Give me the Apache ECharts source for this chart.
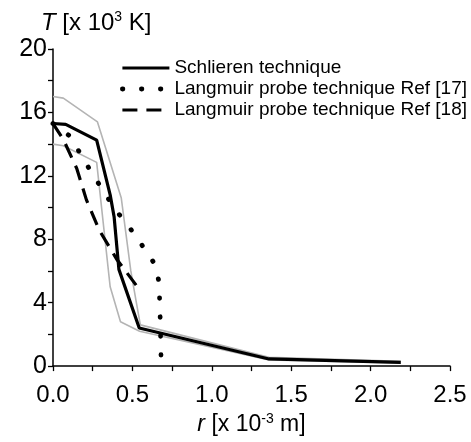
<!DOCTYPE html>
<html>
<head>
<meta charset="utf-8">
<script src="https://cdn.jsdelivr.net/npm/echarts@6/dist/echarts.min.js"></script>
<style>html,body{margin:0;padding:0;background:#fff;}#c{width:471px;height:442px;}</style>
</head>
<body>
<div id="c"></div>
<script>
// Schlieren technique (solid black)
const schR = [0, 0.08, 0.275, 0.36, 0.385, 0.415, 0.543, 1.36, 2.19];
const schT = [15.3, 15.25, 14.25, 10.8, 9.4, 6.1, 2.4, 0.45, 0.24];
// Upper uncertainty bound (grey)
const upR = [0, 0.065, 0.28, 0.43, 0.49, 0.525, 0.55, 1.36, 2.19];
const upT = [17.0, 16.9, 15.4, 10.6, 6.0, 4.0, 2.6, 0.55, 0.3];
// Lower uncertainty bound (grey)
const loR = [0, 0.065, 0.275, 0.36, 0.425, 0.545, 1.36, 2.19];
const loT = [14.0, 13.9, 12.85, 5.0, 2.8, 2.2, 0.38, 0.2];
// Langmuir probe technique Ref [17] (dotted)
const l17R = [0, 0.107, 0.24, 0.39, 0.48, 0.56, 0.64, 0.668, 0.675, 0.68];
const l17T = [15.3, 14.5, 12.25, 9.9, 8.77, 7.63, 6.45, 5.3, 3.0, 0.7];
// Langmuir probe technique Ref [18] (dashed)
const l18R = [0, 0.065, 0.15, 0.21, 0.29, 0.40, 0.55];
const l18T = [15.3, 14.3, 12.45, 10.5, 8.6, 6.76, 4.75];

const seriesNames = ['Schlieren technique', 'Langmuir probe technique Ref [17]', 'Langmuir probe technique Ref [18]'];
const xTicks = [0, 0.5, 1.0, 1.5, 2.0, 2.5];
const yTicks = [0, 4, 8, 12, 16, 20];

const pairs = (xs, ys) => xs.map((x, i) => [x, ys[i]]);
const FONT = 'Liberation Sans, Arial, sans-serif';

const chart = echarts.init(document.getElementById('c'));
chart.setOption({
  animation: false,
  backgroundColor: '#fff',
  title: {
    left: 36, top: 5,
    text: '{i|T} [x 10{sup|3} K]',
    textStyle: {
      fontFamily: FONT, fontSize: 24, fontWeight: 'normal', color: '#000', lineHeight: 26,
      rich: {
        i: { fontStyle: 'italic', fontSize: 24, fontFamily: FONT, color: '#000', lineHeight: 26 },
        sup: { fontSize: 14, fontFamily: FONT, color: '#000', verticalAlign: 'top', lineHeight: 26 }
      }
    }
  },
  grid: { left: 53, right: 21, top: 49, bottom: 71.5, containLabel: false },
  legend: {
    orient: 'vertical', left: 115, top: 52.5,
    itemWidth: 47, itemHeight: 14, itemGap: 0,
    data: seriesNames,
    itemStyle: { color: 'rgba(0,0,0,0)', borderColor: 'rgba(0,0,0,0)', borderWidth: 0, opacity: 0 },
    lineStyle: { width: 'inherit', type: 'inherit', cap: 'inherit' },
    textStyle: { fontFamily: FONT, fontSize: 19, color: '#000', lineHeight: 21 }
  },
  xAxis: {
    type: 'value', min: xTicks[0], max: xTicks[xTicks.length - 1], interval: 0.5,
    name: '{i|r} [x 10{sup|-3} m]', nameLocation: 'middle', nameGap: 44,
    nameTextStyle: {
      fontFamily: FONT, fontSize: 23, color: '#000', lineHeight: 25,
      rich: {
        i: { fontStyle: 'italic', fontSize: 23, fontFamily: FONT, color: '#000', lineHeight: 25 },
        sup: { fontSize: 14, fontFamily: FONT, color: '#000', verticalAlign: 'top', lineHeight: 25 }
      }
    },
    axisLine: { lineStyle: { color: '#000', width: 1.5 } },
    axisTick: { length: 5, lineStyle: { color: '#000', width: 1.3 } },
    minorTick: { show: true, splitNumber: 2, length: 5, lineStyle: { color: '#000', width: 1.3 } },
    axisLabel: { fontFamily: FONT, fontSize: 24, color: '#000', margin: 17, formatter: v => v.toFixed(1) },
    splitLine: { show: false }
  },
  yAxis: {
    type: 'value', min: yTicks[0], max: yTicks[yTicks.length - 1], interval: 4,
    axisLine: { show: true, lineStyle: { color: '#000', width: 1.5 } },
    axisTick: { show: true, length: 5, lineStyle: { color: '#000', width: 1.3 } },
    minorTick: { show: true, splitNumber: 2, length: 5, lineStyle: { color: '#000', width: 1.3 } },
    axisLabel: { fontFamily: FONT, fontSize: 25, color: '#000', margin: 6 },
    splitLine: { show: false }
  },
  series: [
    { name: 'upper', type: 'line', data: pairs(upR, upT), symbol: 'none', silent: true,
      lineStyle: { color: '#b4b4b4', width: 1.6 }, z: 1 },
    { name: 'lower', type: 'line', data: pairs(loR, loT), symbol: 'none', silent: true,
      lineStyle: { color: '#b4b4b4', width: 1.6 }, z: 1 },
    { name: seriesNames[1], type: 'line', data: pairs(l17R, l17T), symbol: 'none', color: '#000',
      lineStyle: { color: '#000', width: 4.8, type: [0.5, 18.5], cap: 'round' }, z: 2 },
    { name: seriesNames[2], type: 'line', data: pairs(l18R, l18T), symbol: 'none', color: '#000',
      lineStyle: { color: '#000', width: 3.2, type: [15, 9] }, z: 2 },
    { name: seriesNames[0], type: 'line', data: pairs(schR, schT), symbol: 'none', color: '#000',
      lineStyle: { color: '#000', width: 3.2 }, z: 3 }
  ]
});
</script>
</body>
</html>
